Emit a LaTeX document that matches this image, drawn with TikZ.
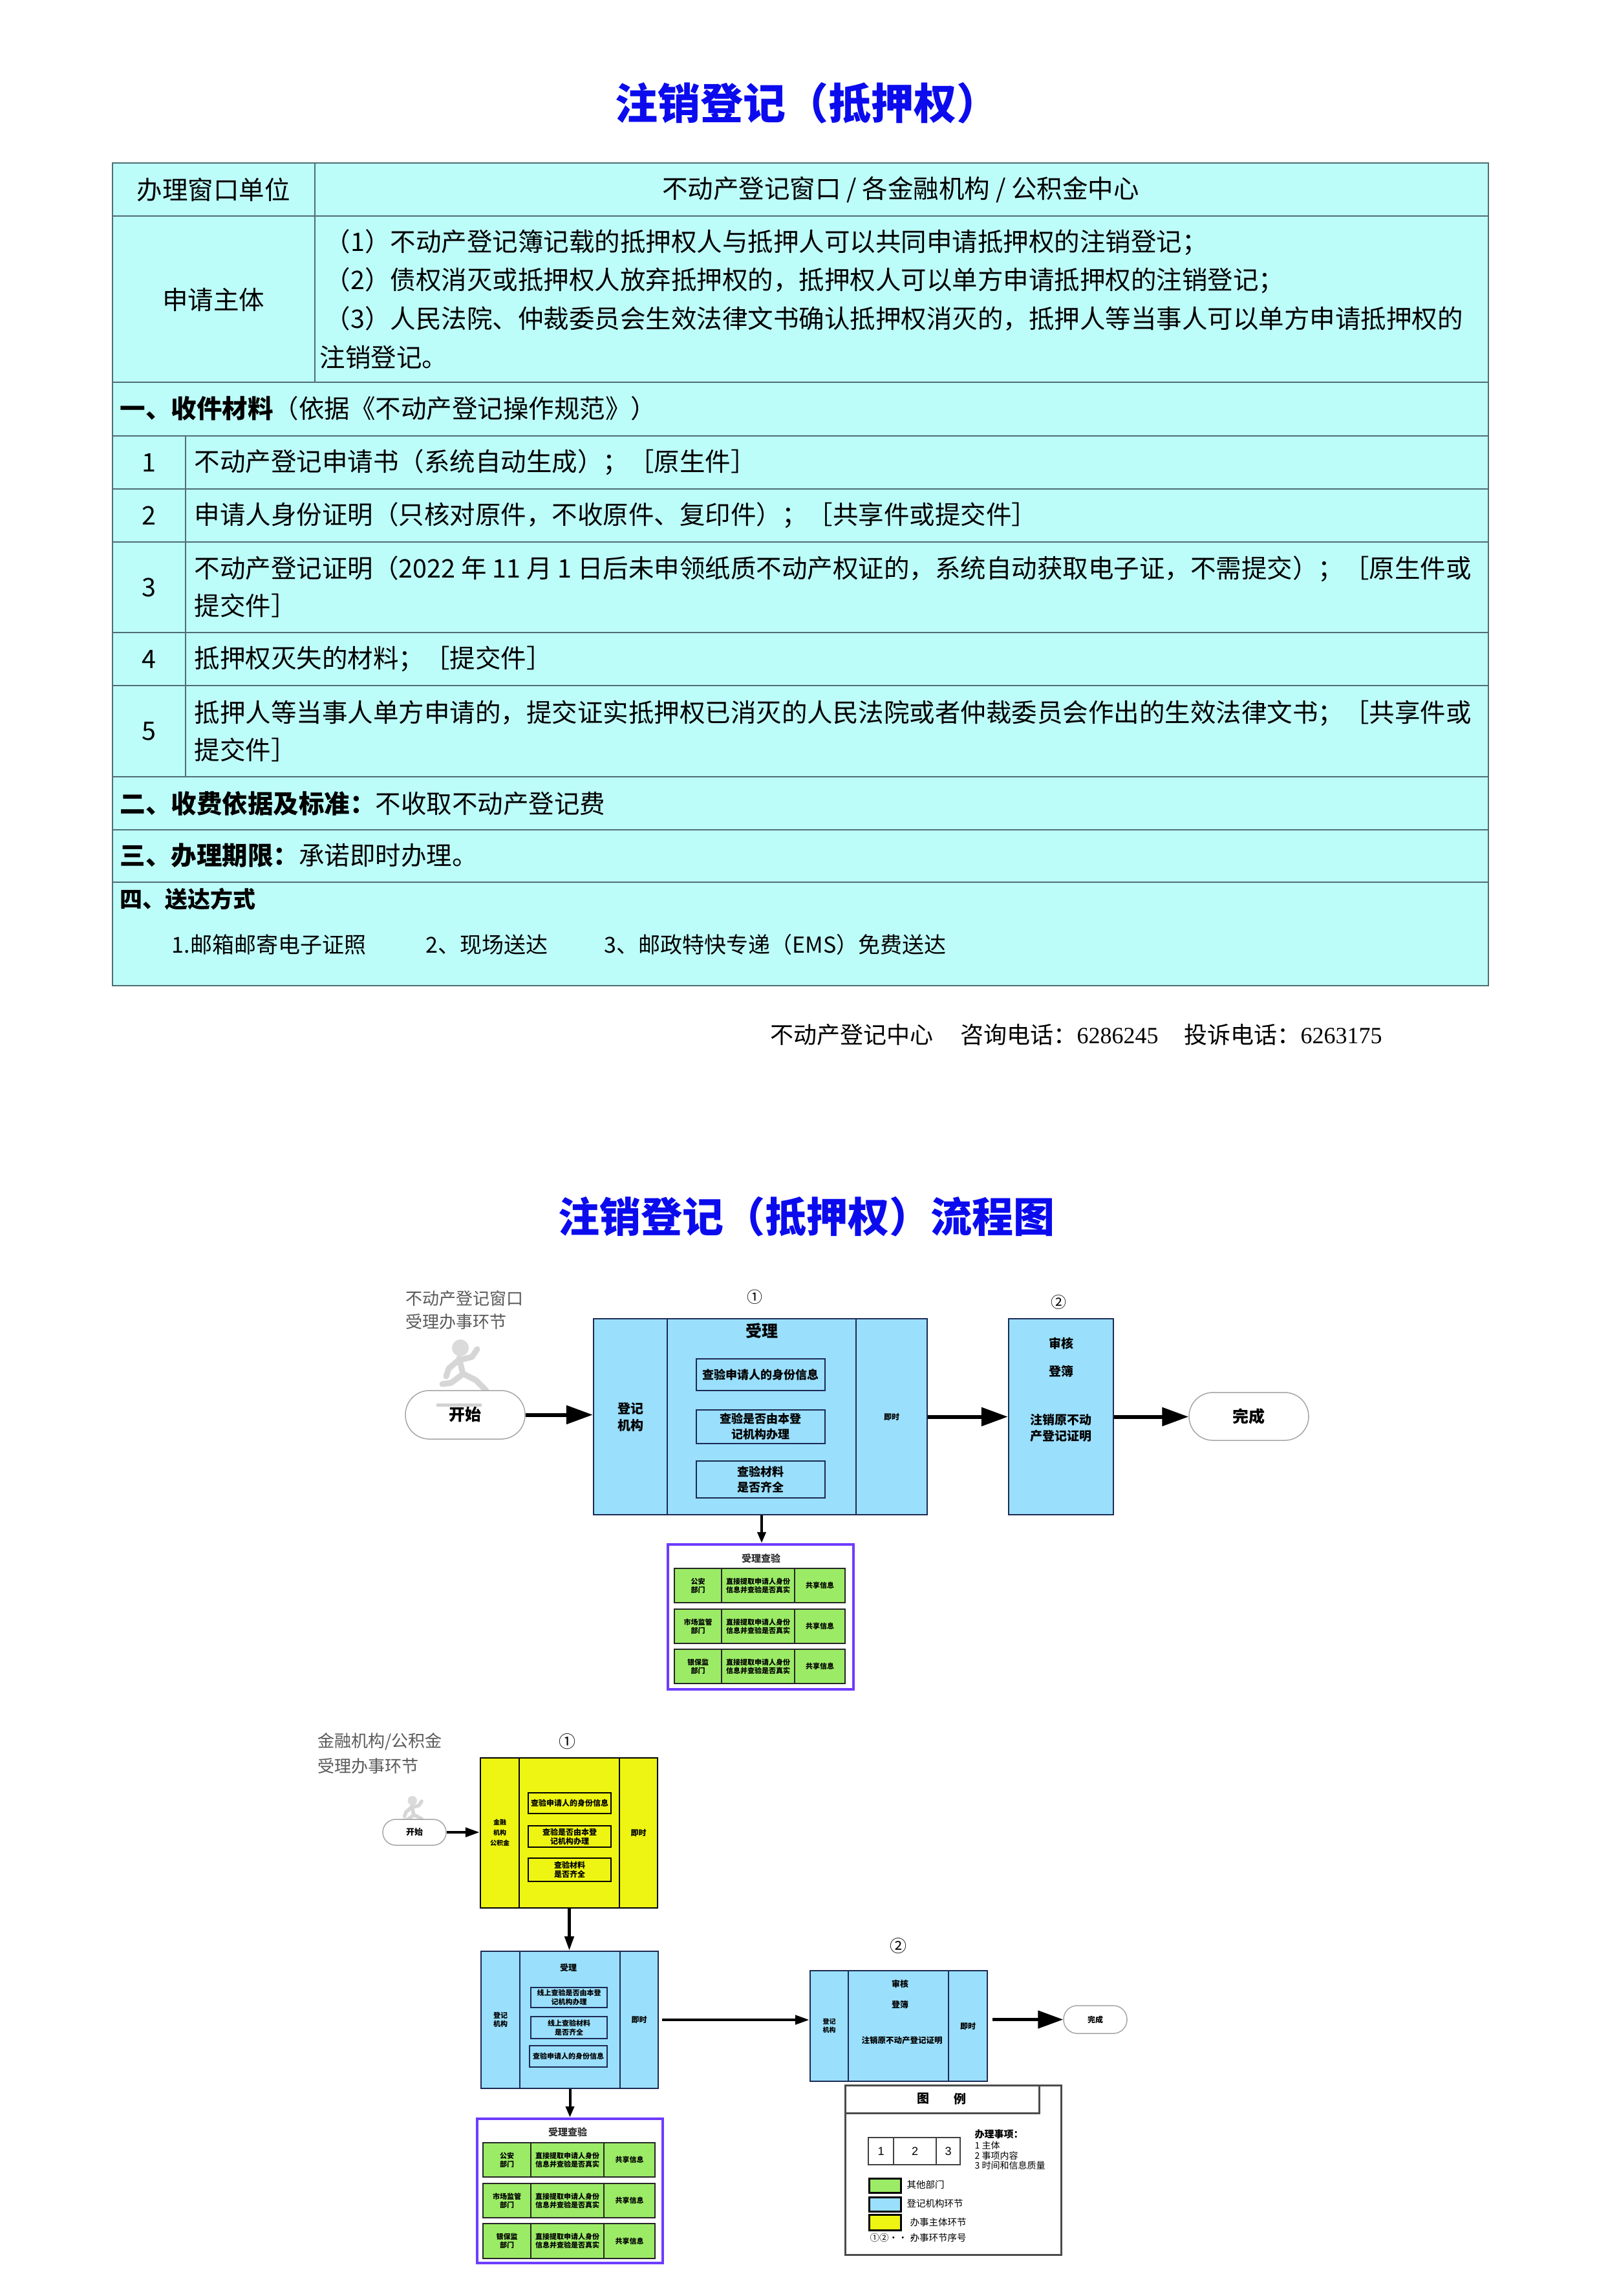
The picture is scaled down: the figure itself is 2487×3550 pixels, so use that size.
\documentclass[tikz,border=0pt]{standalone}
\usepackage{fontspec}
\setmainfont{Noto Sans CJK SC}
\newfontfamily\serifnum{Liberation Serif}
\newfontfamily\arialf{Liberation Sans}
\usetikzlibrary{arrows.meta,calc}
\newdimen\pxu \pxu=0.28453pt
\newcommand\fpx[2]{\fontsize{#1\pxu}{#2\pxu}\selectfont}
\definecolor{tcyan}{HTML}{BDFDF9}
\definecolor{tline}{HTML}{4F6E73}
\definecolor{fblue}{HTML}{9ADFFB}
\definecolor{fgreen}{HTML}{9CEB66}
\definecolor{fyellow}{HTML}{EEF512}
\definecolor{fpurple}{HTML}{6E3CFF}
\definecolor{fnavy}{HTML}{1C2A55}
\definecolor{ttblue}{HTML}{0B0BEE}
\definecolor{lblgray}{HTML}{5A5A5A}
\newcommand\RN[7]{%
 \pgfmathsetmacro\rnX{(#3+#5)/2}\pgfmathsetmacro\rnY{(#4+#6)/2}%
 \pgfmathsetmacro\rnW{(#5-#3)/10}\pgfmathsetmacro\rnH{(#6-#4)/10}%
 \node[inner sep=0pt,#1,minimum width=\rnW mm,minimum height=\rnH mm] (#2) at (\rnX,\rnY) {#7};}
\newcommand\runner[4]{%
 \begin{scope}[shift={(#1,#2)},scale=#3]
  \draw[gray!32,line width=#4,line cap=round,line join=round]
   (-6,-24) -- (0,0)
   (-8,-20) -- (-22,-8) -- (-26,4)
   (-2,-22) -- (14,-26) -- (22,-38)
   (0,0) -- (20,10) -- (36,26)
   (-2,2) -- (-18,14) -- (-32,16);
  \fill[gray!28] (-4,-40) circle (13);
 \end{scope}}
\tikzset{
 tl/.style={draw=tline,line width=0.22mm},
 tt/.style={font=\fpx{39.5}{47},anchor=west,inner sep=0pt},
 ttc/.style={font=\fpx{39.5}{47},inner sep=0pt},
 fb/.style={draw=fnavy,line width=0.22mm,fill=fblue,align=center},
 fy/.style={draw=black,line width=0.22mm,fill=fyellow,align=center},
 fg/.style={draw=black!85,line width=0.2mm,fill=fgreen,align=center,font=\bfseries\fpx{11}{13}},
 pill/.style={draw=gray!70,line width=0.15mm,fill=white},
 pbox/.style={draw=fpurple,line width=0.45mm,fill=white},
 bigarr/.style={line width=0.6mm,-{Triangle[length=4.1mm,width=2.8mm]}},
 midarr/.style={line width=0.4mm,-{Triangle[length=1.7mm,width=1.3mm]}},
 smarr/.style={line width=0.45mm,-{Triangle[length=2.2mm,width=1.4mm]}},
 lbl/.style={font=\fpx{26}{30},text=lblgray,anchor=west,inner sep=0pt},
 lgt/.style={font=\fpx{14.5}{16},anchor=west,inner sep=0pt},
 foot/.style={font=\fpx{36}{40},anchor=west,inner sep=0pt},
}
\begin{document}
\begin{tikzpicture}[x=0.1mm,y=-0.1mm]
\useasboundingbox (0,0) rectangle (2487,3550);
\fill[white] (0,0) rectangle (2487,3550);

% ---------- title ----------
\node[font=\bfseries\fpx{66}{74},text=ttblue] (t1) at (1248,159) {注销登记（抵押权）};

% ---------- table ----------
\fill[tcyan] (174,252) rectangle (2302,1524);
\foreach \yy in {334,591,674,756,838,978,1060,1201,1283,1364}
  \draw[tl] (174,\yy) -- (2302,\yy);
\draw[tl] (487,252) -- (487,591);
\draw[tl] (287,674) -- (287,1201);
\draw[tl] (174,252) rectangle (2302,1524);

\node[ttc] (c11) at (330,293) {办理窗口单位};
\node[ttc] (c12) at (1393,293) {不动产登记窗口 / 各金融机构 / 公积金中心};
\node[ttc] (c21) at (330,463) {申请主体};
\node[tt] (c22a) at (502,375) {（1）不动产登记簿记载的抵押权人与抵押人可以共同申请抵押权的注销登记；};
\node[tt] (c22b) at (502,434) {（2）债权消灭或抵押权人放弃抵押权的，抵押权人可以单方申请抵押权的注销登记；};
\node[tt] (c22c) at (502,493) {（3）人民法院、仲裁委员会生效法律文书确认抵押权消灭的，抵押人等当事人可以单方申请抵押权的};
\node[tt] (c22d) at (494,552) {注销登记。};
\node[tt] (h1) at (185,632) {\bfseries 一、收件材料\mdseries（依据《不动产登记操作规范》）};
\node[ttc] (n1) at (230,715) {1};
\node[ttc] (n2) at (230,797) {2};
\node[ttc] (n3) at (230,908) {3};
\node[ttc] (n4) at (230,1019) {4};
\node[ttc] (n5) at (230,1131) {5};
\node[tt] (i1) at (300,715) {不动产登记申请书（系统自动生成）；［原生件］};
\node[tt] (i2) at (300,797) {申请人身份证明（只核对原件，不收原件、复印件）；［共享件或提交件］};
\node[tt] (i3a) at (300,880) {不动产登记证明（2022 年 11 月 1 日后未申领纸质不动产权证的，系统自动获取电子证，不需提交）；［原生件或};
\node[tt] (i3b) at (300,936) {提交件］};
\node[tt] (i4) at (300,1019) {抵押权灭失的材料；［提交件］};
\node[tt] (i5a) at (300,1103) {抵押人等当事人单方申请的，提交证实抵押权已消灭的人民法院或者仲裁委员会作出的生效法律文书；［共享件或};
\node[tt] (i5b) at (300,1159) {提交件］};
\node[tt] (h2) at (185,1242) {\bfseries 二、收费依据及标准：\mdseries 不收取不动产登记费};
\node[tt] (h3) at (185,1323) {\bfseries 三、办理期限：\mdseries 承诺即时办理。};
\node[tt,font=\bfseries\fpx{35}{40}] (h4) at (185,1390) {四、送达方式};
\node[tt,font=\fpx{34}{40}] (d1) at (265,1461) {1.邮箱邮寄电子证照};
\node[tt,font=\fpx{34}{40}] (d2) at (658,1461) {2、现场送达};
\node[tt,font=\fpx{34}{40}] (d3) at (934,1461) {3、邮政特快专递（EMS）免费送达};

% ---------- footer ----------
\node[foot] (f1) at (1191,1600) {不动产登记中心};
\node[foot] (f2) at (1485,1600) {咨询电话：{\serifnum 6286245}};
\node[foot] (f3) at (1831,1600) {投诉电话：{\serifnum 6263175}};

% ---------- flow title ----------
\node[font=\bfseries\fpx{64}{72},text=ttblue] (t2) at (1247,1881) {注销登记（抵押权）流程图};

% ---------- flow 1 ----------
\node[lbl] (l1a) at (627,2008) {不动产登记窗口};
\node[lbl] (l1b) at (627,2044) {受理办事环节};
\runner{716}{2124}{1}{0.9mm}
\RN{pill,rounded corners=3.7mm,font=\bfseries\fpx{25}{30}}{s1}{627}{2150}{812}{2225}{开始}
\draw[gray!35,line width=0.5mm] (675,2172) -- (745,2172);

\RN{fb,font=\bfseries\fpx{20}{26}}{a1l}{918}{2039}{1032}{2342}{登记\\机构}
\RN{fb}{a1m}{1032}{2039}{1324}{2342}{}
\RN{fb,font=\bfseries\fpx{12}{15}}{a1r}{1324}{2039}{1434}{2342}{即时}
\node[font=\bfseries\fpx{25}{30}] (a1t) at (1178,2058) {受理};
\RN{fb,font=\bfseries\fpx{18}{24}}{a1b1}{1077}{2101}{1276}{2150}{查验申请人的身份信息}
\RN{fb,font=\bfseries\fpx{18}{24}}{a1b2}{1077}{2180}{1276}{2232}{查验是否由本登\\记机构办理}
\RN{fb,font=\bfseries\fpx{18}{24}}{a1b3}{1077}{2259}{1276}{2316}{查验材料\\是否齐全}
\node[font=\fpx{24}{28}] (o1) at (1167,2005) {①};

\RN{fb}{b1}{1560}{2039}{1722}{2342}{}
\node[font=\bfseries\fpx{19}{24}] (b1t1) at (1641,2077) {审核};
\node[font=\bfseries\fpx{19}{24}] (b1t2) at (1641,2120) {登簿};
\node[font=\bfseries\fpx{19}{25},align=center] (b1t3) at (1641,2208) {注销原不动\\产登记证明};
\node[font=\fpx{24}{28}] (o2) at (1637,2013) {②};

\RN{pill,rounded corners=3.7mm,font=\bfseries\fpx{25}{30}}{e1}{1839}{2153}{2024}{2227}{完成}

\RN{pbox}{p1}{1033}{2388}{1320}{2612}{}
\node[font=\bfseries\fpx{15}{18},text=black!80] (p1t) at (1177,2410) {受理查验};
\RN{fg}{p1aa}{1043}{2425}{1116}{2478}{公安\\部门}
\RN{fg}{p1ab}{1116}{2425}{1229}{2478}{直接提取申请人身份\\信息并查验是否真实}
\RN{fg}{p1ac}{1229}{2425}{1307}{2478}{共享信息}
\RN{fg}{p1ba}{1043}{2488}{1116}{2541}{市场监管\\部门}
\RN{fg}{p1bb}{1116}{2488}{1229}{2541}{直接提取申请人身份\\信息并查验是否真实}
\RN{fg}{p1bc}{1229}{2488}{1307}{2541}{共享信息}
\RN{fg}{p1ca}{1043}{2550}{1116}{2603}{银保监\\部门}
\RN{fg}{p1cb}{1116}{2550}{1229}{2603}{直接提取申请人身份\\信息并查验是否真实}
\RN{fg}{p1cc}{1229}{2550}{1307}{2603}{共享信息}

\draw[bigarr] (s1.east) -- (s1.east -| a1l.west);
\draw[bigarr] (a1r.east) -- (a1r.east -| b1.west);
\draw[bigarr] (b1.east) -- (b1.east -| e1.west);
\draw[midarr] (a1m.south) -- (a1m.south |- p1.north);

% ---------- flow 2 ----------
\node[lbl] (l2a) at (491,2693) {金融机构/公积金};
\node[lbl] (l2b) at (491,2731) {受理办事环节};
\runner{640}{2806}{0.55}{0.55mm}
\RN{pill,rounded corners=2mm,font=\bfseries\fpx{13}{16}}{s2}{592}{2813}{690}{2853}{开始}

\RN{fy,font=\bfseries\fpx{10}{16}}{y1l}{743}{2718}{803}{2950}{金融\\机构\\公积金}
\RN{fy}{y1m}{803}{2718}{958}{2950}{}
\RN{fy,font=\bfseries\fpx{12}{15}}{y1r}{958}{2718}{1017}{2950}{即时}
\RN{fy,font=\bfseries\fpx{12}{14}}{y1b1}{817}{2772}{945}{2804}{查验申请人的身份信息}
\RN{fy,font=\bfseries\fpx{12}{14}}{y1b2}{817}{2823}{945}{2856}{查验是否由本登\\记机构办理}
\RN{fy,font=\bfseries\fpx{12}{14}}{y1b3}{817}{2873}{945}{2909}{查验材料\\是否齐全}
\node[font=\fpx{26}{30}] (o3) at (877,2693) {①};

\RN{fb,font=\bfseries\fpx{11}{13}}{c1l}{744}{3017}{804}{3229}{登记\\机构}
\RN{fb}{c1m}{804}{3017}{959}{3229}{}
\RN{fb,font=\bfseries\fpx{12}{15}}{c1r}{959}{3017}{1018}{3229}{即时}
\node[font=\bfseries\fpx{13}{16}] (c1t) at (879,3042) {受理};
\RN{fb,font=\bfseries\fpx{11}{14}}{c1b1}{821}{3073}{939}{3104}{线上查验是否由本登\\记机构办理}
\RN{fb,font=\bfseries\fpx{11}{14}}{c1b2}{821}{3118}{939}{3152}{线上查验材料\\是否齐全}
\RN{fb,font=\bfseries\fpx{11}{14}}{c1b3}{819}{3163}{939}{3196}{查验申请人的身份信息}

\RN{fb,font=\bfseries\fpx{10}{13}}{c2l}{1253}{3047}{1312}{3218}{登记\\机构}
\RN{fb}{c2m}{1312}{3047}{1467}{3218}{}
\RN{fb,font=\bfseries\fpx{12}{15}}{c2r}{1467}{3047}{1527}{3218}{即时}
\node[font=\bfseries\fpx{13}{16}] (c2t1) at (1392,3067) {审核};
\node[font=\bfseries\fpx{13}{16}] (c2t2) at (1392,3100) {登簿};
\node[font=\bfseries\fpx{12.5}{16}] (c2t3) at (1395,3155) {注销原不动产登记证明};
\node[font=\fpx{26}{30}] (o4) at (1389,3009) {②};

\RN{pill,rounded corners=2.1mm,font=\bfseries\fpx{12}{15}}{e2}{1645}{3101}{1743}{3144}{完成}

\RN{pbox}{p2}{738}{3276}{1025}{3499}{}
\node[font=\bfseries\fpx{15}{18},text=black!80] (p2t) at (878,3297) {受理查验};
\RN{fg}{p2aa}{747}{3313}{821}{3366}{公安\\部门}
\RN{fg}{p2ab}{821}{3313}{934}{3366}{直接提取申请人身份\\信息并查验是否真实}
\RN{fg}{p2ac}{934}{3313}{1013}{3366}{共享信息}
\RN{fg}{p2ba}{747}{3376}{821}{3429}{市场监管\\部门}
\RN{fg}{p2bb}{821}{3376}{934}{3429}{直接提取申请人身份\\信息并查验是否真实}
\RN{fg}{p2bc}{934}{3376}{1013}{3429}{共享信息}
\RN{fg}{p2ca}{747}{3438}{821}{3492}{银保监\\部门}
\RN{fg}{p2cb}{821}{3438}{934}{3492}{直接提取申请人身份\\信息并查验是否真实}
\RN{fg}{p2cc}{934}{3438}{1013}{3492}{共享信息}

\draw[smarr] (s2.east) -- (s2.east -| y1l.west);
\draw[smarr] (y1m.south) -- (y1m.south |- c1m.north);
\draw[smarr,shorten <=0.5mm] (c1r.east) -- (c1r.east -| c2l.west);
\draw[line width=0.5mm,-{Triangle[length=3.9mm,width=2.7mm]},shorten <=0.7mm] (c2r.east |- e2.west) -- (e2.west);
\draw[midarr] (c1m.south) -- (c1m.south |- p2.north);

% ---------- legend ----------
\RN{draw=black!70,line width=0.3mm}{lg}{1307}{3224}{1641}{3486}{}
\RN{draw=black!70,line width=0.3mm}{lgh}{1307}{3224}{1607}{3267}{}
\node[font=\bfseries\fpx{19}{22}] (lgh1) at (1428,3245) {图};
\node[font=\bfseries\fpx{19}{22}] (lgh2) at (1485,3245) {例};
\RN{draw=black!75,line width=0.2mm,font=\arialf\fpx{18}{20}}{lg1}{1343}{3305}{1382}{3347}{1}
\RN{draw=black!75,line width=0.2mm,font=\arialf\fpx{18}{20}}{lg2}{1382}{3305}{1448}{3347}{2}
\RN{draw=black!75,line width=0.2mm,font=\arialf\fpx{18}{20}}{lg3}{1448}{3305}{1485}{3347}{3}
\node[lgt,font=\bfseries\fpx{15}{16}] (lgi0) at (1507,3300) {办理事项：};
\node[lgt,font=\fpx{14}{15}] (lgi1) at (1507,3317) {1 主体};
\node[lgt,font=\fpx{14}{15}] (lgi2) at (1507,3333) {2 事项内容};
\node[lgt,font=\fpx{14}{15}] (lgi3) at (1507,3348) {3 时间和信息质量};
\RN{draw=black,line width=0.3mm,fill=fgreen}{sw1}{1344}{3368}{1393}{3390}{}
\RN{draw=black,line width=0.3mm,fill=fblue}{sw2}{1344}{3397}{1393}{3419}{}
\RN{draw=black,line width=0.3mm,fill=fyellow}{sw3}{1344}{3424}{1393}{3448}{}
\node[lgt] (sl1) at (1402,3378) {其他部门};
\node[lgt] (sl2) at (1402,3407) {登记机构环节};
\node[lgt] (sl3) at (1407,3436) {办事主体环节};
\node[lgt] (sl4a) at (1345,3460) {①②···};
\node[lgt] (sl4) at (1407,3460) {办事环节序号};
\end{tikzpicture}
\end{document}
